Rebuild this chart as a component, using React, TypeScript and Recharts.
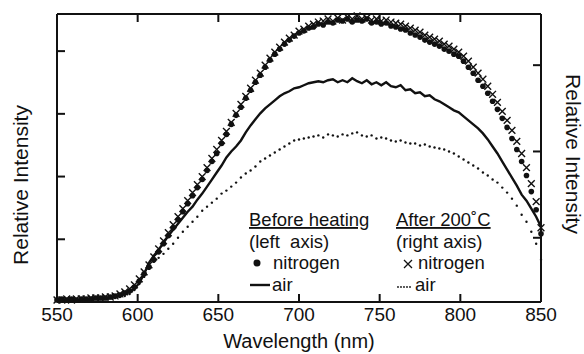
import React from "react";
import { ComposedChart, Line, Scatter, XAxis, YAxis, Label } from "recharts";

// wavelength grid (nm), one sample every 3 nm
const wavelengths = Array.from({ length: 101 }, (_, i) => 550 + i * 3);

// before heating, left axis
const nitrogenBefore = [
  2, 3, 2, 3, 2, 3, 3, 3, 4, 4,
  4, 5, 6, 7, 9, 11, 15, 21, 28, 35,
  42, 50, 58, 66, 74, 82, 90, 98, 106, 114,
  122, 131, 140, 148, 158, 167, 177, 186, 194, 203,
  211, 219, 226, 234, 241, 247, 252, 257, 261, 265,
  268, 270, 273, 274, 277, 276, 279, 278, 281, 280,
  282, 279, 281, 280, 282, 278, 279, 277, 278, 275,
  274, 272, 271, 268, 266, 264, 261, 259, 257, 255,
  252, 250, 247, 245, 240, 234, 228, 221, 215, 208,
  200, 192, 183, 174, 163, 152, 140, 126, 110, 92,
  68,
];
const airBefore = [
  2, 2, 2, 2, 2, 2, 3, 3, 3, 3,
  4, 4, 5, 6, 8, 10, 13, 19, 28, 39,
  46, 52, 59, 66, 72, 78, 84, 90, 95, 102,
  108, 115, 122, 129, 136, 144, 150, 155, 161, 169,
  176, 182, 188, 193, 197, 201, 205, 208, 210, 213,
  214, 216, 218, 219, 220, 219, 221, 222, 219, 221,
  219, 223, 220, 218, 221, 217, 219, 216, 219, 215,
  214, 216, 211, 212, 208, 209, 205, 206, 202, 200,
  197, 194, 191, 189, 185, 181, 177, 173, 168, 162,
  155, 148, 140, 132, 124, 116, 107, 101, 93, 85,
  75,
];

// after 200 C, right axis
const nitrogenAfter = [
  2, 2, 3, 2, 3, 3, 3, 4, 4, 4,
  5, 5, 6, 8, 10, 13, 17, 23, 30, 37,
  45, 53, 61, 69, 77, 85, 93, 101, 109, 117,
  125, 134, 143, 152, 161, 170, 179, 188, 197, 205,
  213, 221, 228, 236, 243, 249, 254, 259, 263, 266,
  270, 272, 275, 277, 279, 280, 282, 280, 283, 281,
  284, 282, 285, 282, 283, 281, 282, 280, 281, 279,
  278, 277, 275, 273, 271, 269, 266, 264, 262, 260,
  257, 255, 252, 249, 245, 240, 234, 228, 222, 215,
  207, 199, 190, 181, 171, 160, 148, 134, 118, 100,
  74,
];
const airAfter = [
  2, 2, 2, 2, 2, 2, 2, 3, 3, 3,
  3, 4, 4, 5, 6, 8, 12, 18, 25, 33,
  40, 44, 48, 53, 58, 64, 70, 75, 80, 85,
  91, 95, 99, 103, 108, 111, 115, 119, 124, 128,
  131, 135, 140, 143, 146, 149, 152, 155, 158, 161,
  162, 163, 164, 165, 166, 164, 167, 166, 165, 167,
  166, 168, 169, 166, 165, 166, 163, 164, 163, 161,
  160, 161, 159, 158, 158, 156, 157, 155, 154, 153,
  152, 150, 148, 145, 142, 139, 136, 133, 129, 126,
  122, 119, 114, 109, 103, 96, 87, 80, 70, 58,
  42,
];

const xTicks = [550, 600, 650, 700, 750, 800, 850];
const leftTicks = [62.5, 125, 187.5, 250];
const rightTicks = [64, 150, 236];

const FONT = "'Liberation Sans', Arial, Helvetica, sans-serif";
const INK = "#111";
const TICK_LEN = 8;
const TICK_W = 2;

const data = wavelengths.map((wl, i) => ({
  wl,
  n0: nitrogenBefore[i],
  a0: airBefore[i],
  n1: nitrogenAfter[i],
  a1: airAfter[i],
}));

const DotShape = (p: any) => <circle cx={p.cx} cy={p.cy} r={2.8} fill={INK} />;
const SmallDot = (p: any) => <circle cx={p.cx} cy={p.cy} r={1.2} fill={INK} />;
const CrossShape = (p: any) => {
  const s = 3.4;
  return (
    <path
      d={`M${p.cx - s},${p.cy - s}L${p.cx + s},${p.cy + s}M${p.cx - s},${p.cy + s}L${p.cx + s},${p.cy - s}`}
      stroke={INK}
      strokeWidth={1.4}
      fill="none"
    />
  );
};

// inward tick marks (tickSize 0, tickMargin 0 -> p.x/p.y sit on the axis line)
const BottomTick = (p: any) => (
  <g>
    <line x1={p.x} y1={p.y} x2={p.x} y2={p.y - TICK_LEN} stroke={INK} strokeWidth={TICK_W} />
    <text x={p.x} y={p.y + 19} textAnchor="middle" fill={INK} fontSize={19} fontFamily={FONT}>
      {p.payload.value}
    </text>
  </g>
);
const TopTick = (p: any) => (
  <line x1={p.x} y1={p.y} x2={p.x} y2={p.y + TICK_LEN} stroke={INK} strokeWidth={TICK_W} />
);
const LeftTick = (p: any) => (
  <line x1={p.x} y1={p.y} x2={p.x + TICK_LEN} y2={p.y} stroke={INK} strokeWidth={TICK_W} />
);
const RightTick = (p: any) => (
  <line x1={p.x} y1={p.y} x2={p.x - TICK_LEN} y2={p.y} stroke={INK} strokeWidth={TICK_W} />
);

const axisLine = { stroke: INK, strokeWidth: 2 };

export default function App() {
  return (
    <div style={{ position: "absolute", left: 0, top: 0, width: 584, height: 354, background: "#fff" }}>
      <ComposedChart
        width={584}
        height={354}
        data={data}
        margin={{ top: 0, right: 0, bottom: 0, left: 0 }}
      >
        <XAxis
          dataKey="wl"
          type="number"
          domain={[550, 850]}
          ticks={xTicks}
          interval={0}
          height={52}
          tickSize={0}
          tickMargin={0}
          axisLine={axisLine}
          tickLine={false}
          tick={BottomTick}
        >
          <Label
            value="Wavelength (nm)"
            position="insideBottom"
            offset={6}
            style={{ fill: INK, fontSize: 20, fontFamily: FONT }}
          />
        </XAxis>
        {/* top frame edge; the after-heating series are plotted against it */}
        <XAxis
          xAxisId="top"
          dataKey="wl"
          type="number"
          orientation="top"
          domain={[550, 850]}
          ticks={xTicks}
          interval={0}
          height={14}
          tickSize={0}
          tickMargin={0}
          tick={TopTick}
          axisLine={axisLine}
          tickLine={false}
        />
        <YAxis
          type="number"
          domain={[0, 287]}
          ticks={leftTicks}
          interval={0}
          width={57}
          tickSize={0}
          tickMargin={0}
          tick={LeftTick}
          axisLine={axisLine}
          tickLine={false}
        />
        <YAxis
          yAxisId="right"
          orientation="right"
          type="number"
          domain={[0, 287]}
          ticks={rightTicks}
          interval={0}
          width={43}
          tickSize={0}
          tickMargin={0}
          tick={RightTick}
          axisLine={axisLine}
          tickLine={false}
        />

        <Scatter
          xAxisId="top"
          yAxisId="right"
          dataKey="a1"
          shape={SmallDot}
          isAnimationActive={false}
        />
        <Line
          dataKey="a0"
          type="linear"
          stroke={INK}
          strokeWidth={2.4}
          dot={false}
          isAnimationActive={false}
        />
        <Scatter dataKey="n0" shape={DotShape} isAnimationActive={false} />
        <Scatter
          xAxisId="top"
          yAxisId="right"
          dataKey="n1"
          shape={CrossShape}
          isAnimationActive={false}
        />
      </ComposedChart>

      <svg
        width={584}
        height={354}
        style={{ position: "absolute", left: 0, top: 0, pointerEvents: "none" }}
        fontFamily={FONT}
        fill={INK}
      >
        <text x={28} y={185} fontSize={21} textAnchor="middle" transform="rotate(-90 28 185)">
          Relative Intensity
        </text>
        <text x={566} y={154} fontSize={21} textAnchor="middle" transform="rotate(90 566 154)">
          Relative Intensity
        </text>

        <g fontSize={18.5}>
          <text x={249} y={226} style={{ textDecoration: "underline" }}>Before heating</text>
          <text x={249} y={248}>{"(left\u00a0 axis)"}</text>
          <circle cx={257} cy={263} r={3.5} fill={INK} />
          <text x={273} y={269}>nitrogen</text>
          <line x1={250} y1={285} x2={270} y2={285} stroke={INK} strokeWidth={2.4} />
          <text x={272} y={291}>air</text>

          <text x={396} y={226} style={{ textDecoration: "underline" }}>After 200˚C</text>
          <text x={396} y={248}>(right axis)</text>
          <path d="M404,260L412,268M404,268L412,260" stroke={INK} strokeWidth={1.3} />
          <text x={418} y={269}>nitrogen</text>
          {[398, 401, 404, 407, 410].map((x) => (
            <circle key={x} cx={x} cy={287} r={0.9} fill={INK} />
          ))}
          <text x={415} y={291}>air</text>
        </g>
      </svg>
    </div>
  );
}
